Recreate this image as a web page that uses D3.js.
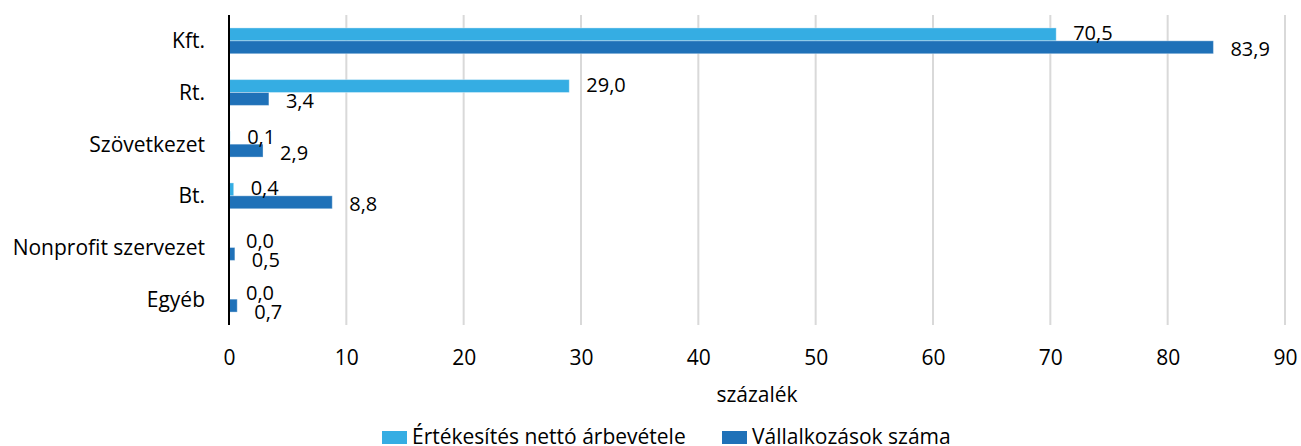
<!DOCTYPE html>
<html>
<head>
<meta charset="utf-8">
<script src="https://cdn.jsdelivr.net/npm/d3@7"></script>
<style>
  body { margin: 0; background: #fff; }
  text { font-family: "Open Sans", sans-serif; fill: #000; }
</style>
</head>
<body>
<div id="chart"></div>
<script>
// categories top to bottom
const categories = ["Kft.", "Rt.", "Szövetkezet", "Bt.", "Nonprofit szervezet", "Egyéb"];
const seriesNames = ["Értékesítés nettó árbevétele", "Vállalkozások száma"];
const arbevetel = [70.5, 29.0, 0.1, 0.4, 0.0, 0.0];
const vallalkozasok = [83.9, 3.4, 2.9, 8.8, 0.5, 0.7];
const xTicks = [0, 10, 20, 30, 40, 50, 60, 70, 80, 90];
const colors = ["#35ade3", "#1f71b8"];

const width = 1301, height = 446;
const margin = {top: 15, right: 16, bottom: 121, left: 229};

const svg = d3.select("#chart").append("svg")
    .attr("width", width)
    .attr("height", height);

const x = d3.scaleLinear()
    .domain([0, 90])
    .range([margin.left, width - margin.right]);

const y = d3.scaleBand()
    .domain(categories)
    .range([margin.top, height - margin.bottom])
    .paddingInner(0.5)
    .paddingOuter(0.25);

const sub = d3.scaleBand()
    .domain([0, 1])
    .range([0, y.bandwidth()]);

// gridlines
svg.append("g")
    .selectAll("line")
    .data(xTicks.slice(1))
    .join("line")
    .attr("x1", d => x(d)).attr("x2", d => x(d))
    .attr("y1", margin.top).attr("y2", height - margin.bottom)
    .attr("stroke", "#d9d9d9")
    .attr("stroke-width", 2);

const rows = categories.map((c, i) => ({cat: c, vals: [arbevetel[i], vallalkozasok[i]]}));

const g = svg.append("g")
    .selectAll("g")
    .data(rows)
    .join("g")
    .attr("transform", d => "translate(0," + y(d.cat) + ")");

g.selectAll("rect")
    .data(d => d.vals)
    .join("rect")
    .attr("x", x(0))
    .attr("y", (d, j) => sub(j))
    .attr("width", d => x(d) - x(0))
    .attr("height", sub.bandwidth())
    .attr("fill", (d, j) => colors[j])
    .attr("stroke", "rgba(255,255,255,0.35)")
    .attr("stroke-width", 1);

const fmt = v => d3.format(".1f")(v).replace(".", ",");

// value labels; when the two labels of a row sit close together the lower one is pushed down
g.each(function(row) {
    const close = Math.abs(x(row.vals[0]) - x(row.vals[1])) < 30;
    d3.select(this).selectAll("text.val")
        .data(row.vals)
        .join("text")
        .attr("class", "val")
        .attr("x", d => x(d) + 17)
        .attr("y", (d, j) => sub(j) + sub.bandwidth() / 2 + (j == 0 ? (close ? 0 : -1) : (close ? 6 : 2)))
        .attr("dy", "0.35em")
        .attr("font-size", 20)
        .text(d => fmt(d));
});

// category labels
svg.append("g")
    .selectAll("text")
    .data(categories)
    .join("text")
    .attr("x", 205)
    .attr("y", d => y(d) + y.bandwidth() / 2)
    .attr("dy", "0.35em")
    .attr("text-anchor", "end")
    .attr("font-size", 21)
    .text(d => d);

// zero axis line
svg.append("line")
    .attr("x1", x(0)).attr("x2", x(0))
    .attr("y1", margin.top).attr("y2", height - margin.bottom)
    .attr("stroke", "#000")
    .attr("stroke-width", 2);

// x axis
const xAxis = d3.axisBottom(x).tickValues(xTicks).tickSize(0).tickPadding(0);
const ax = svg.append("g")
    .attr("transform", "translate(0," + (height - margin.bottom) + ")")
    .call(xAxis);
ax.select(".domain").remove();
ax.selectAll("text")
    .attr("y", 40)
    .attr("dy", null)
    .attr("font-size", 21)
    .attr("font-family", "Open Sans, sans-serif")
    .attr("fill", "#000");

svg.append("text")
    .attr("x", (x(0) + x(90)) / 2)
    .attr("y", 402)
    .attr("text-anchor", "middle")
    .attr("font-size", 21)
    .text("százalék");

// legend
const legendX = [382, 722];
const lg = svg.append("g")
    .selectAll("g")
    .data(seriesNames)
    .join("g")
    .attr("transform", (d, i) => "translate(" + legendX[i] + ",431)");
lg.append("rect")
    .attr("width", 25).attr("height", 13)
    .attr("fill", (d, i) => colors[i]);
lg.append("text")
    .attr("x", 30).attr("y", 13)
    .attr("font-size", 21)
    .text(d => d);
</script>
</body>
</html>
